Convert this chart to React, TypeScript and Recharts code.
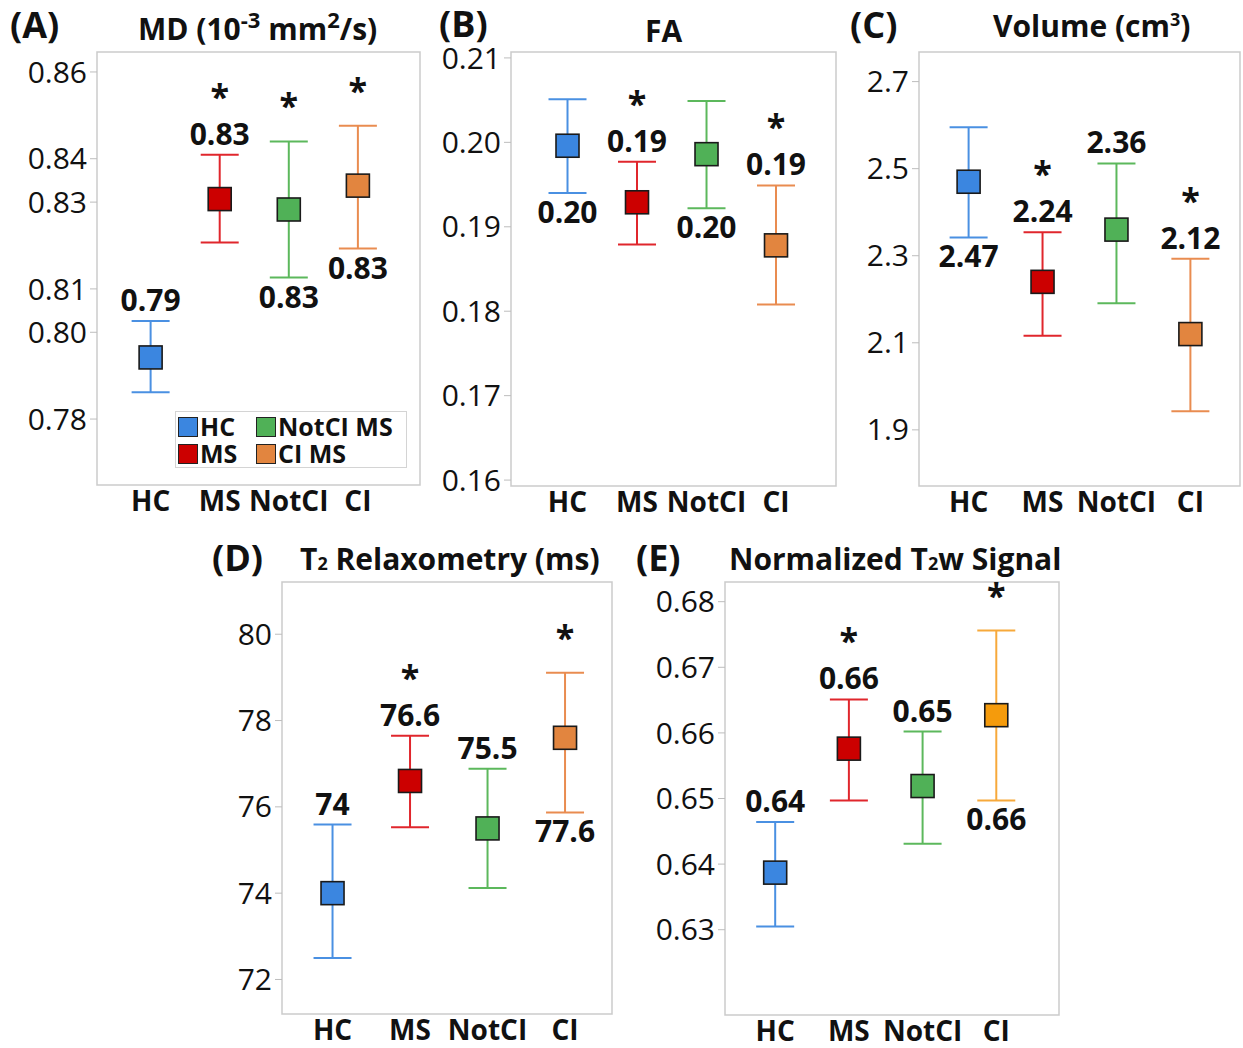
import React from 'react';
import { ScatterChart, Scatter, XAxis, YAxis, ErrorBar, ReferenceArea, Legend } from 'recharts';

const FONT = "'Open Sans', 'Noto Sans', sans-serif";
const INK = '#111';

// groups on the x axis, and their full names in the legend
const groups = ['HC', 'MS', 'NotCI', 'CI'];
const groupNames = ['HC', 'MS', 'NotCI MS', 'CI MS'];
const markFills = ['#3b86e0', '#cc0000', '#50b157', '#e2853f'];
const barStrokes = ['#4a90e2', '#e0262c', '#5cb85c', '#e98c50'];

// (A) MD
const mdMean = [0.7942, 0.8307, 0.8283, 0.8338];
const mdLow = [0.7862, 0.8207, 0.8126, 0.8193];
const mdHigh = [0.8026, 0.8409, 0.844, 0.8476];
const mdSig = [false, true, true, true];
const mdTicks = [0.78, 0.8, 0.81, 0.83, 0.84, 0.86];
const mdTickLabels = ['0.78', '0.80', '0.81', '0.83', '0.84', '0.86'];

// (B) FA
const faMean = [0.1996, 0.1929, 0.1986, 0.1878];
const faLow = [0.194, 0.1879, 0.1922, 0.1808];
const faHigh = [0.2051, 0.1977, 0.2049, 0.1949];
const faSig = [false, true, false, true];
const faTicks = [0.16, 0.17, 0.18, 0.19, 0.2, 0.21];
const faTickLabels = ['0.16', '0.17', '0.18', '0.19', '0.20', '0.21'];

// (C) volume
const volMean = [2.47, 2.24, 2.36, 2.12];
const volLow = [2.342, 2.116, 2.191, 1.943];
const volHigh = [2.595, 2.354, 2.512, 2.293];
const volSig = [false, true, false, true];
const volTicks = [1.9, 2.1, 2.3, 2.5, 2.7];
const volTickLabels = ['1.9', '2.1', '2.3', '2.5', '2.7'];

// (D) T2 relaxometry
const t2Mean = [74, 76.6, 75.5, 77.6];
const t2Low = [72.5, 75.53, 74.12, 75.87];
const t2High = [75.59, 77.65, 76.88, 79.11];
const t2Sig = [false, true, false, true];
const t2Ticks = [72, 74, 76, 78, 80];
const t2TickLabels = ['72', '74', '76', '78', '80'];

// (E) normalized T2w signal
const swMean = [0.6387, 0.6576, 0.6519, 0.6627];
const swLow = [0.6305, 0.6497, 0.6431, 0.6497];
const swHigh = [0.6464, 0.6651, 0.6602, 0.6756];
const swSig = [false, true, false, true];
const swTicks = [0.63, 0.64, 0.65, 0.66, 0.67, 0.68];
const swTickLabels = ['0.63', '0.64', '0.65', '0.66', '0.67', '0.68'];

const fixed2 = (v: number) => v.toFixed(2);
const plain = (v: number) => String(v);

const valueStyle = { fontFamily: FONT, fontSize: 30, fontWeight: 700, fill: INK };
const starStyle = { ...valueStyle, fontSize: 34 };

const YW = 95;
const TOP = 16;
const RIGHT = 3;
const XH = 45;

type Side = 'above' | 'below';

type PanelProps = {
  frame: { l: number; t: number; r: number; b: number };
  xDomain: [number, number];
  yDomain: [number, number];
  mean: number[];
  low: number[];
  high: number[];
  sig: boolean[];
  ticks: number[];
  tickLabels: string[];
  sides: Side[];
  fmt: (v: number) => string;
  fills?: string[];
  strokes?: string[];
  legend?: boolean;
};

const squareShape = (fill: string) => (p: any) => (
  <rect x={p.cx - 11.5} y={p.cy - 11.5} width={23} height={23} fill={fill} stroke="#1a1a1a" strokeWidth={1.6} />
);

// value label above the upper cap, with the significance star over it
const topShape = (p: any) => {
  const { cx, cy, payload } = p;
  const labelY = cy - 10;
  return (
    <g>
      {payload.text && (
        <text x={cx} y={labelY} textAnchor="middle" style={valueStyle}>
          {payload.text}
        </text>
      )}
      {payload.star && (
        <text x={cx} y={payload.text ? labelY - 36 : cy - 23} textAnchor="middle" style={starStyle}>
          *
        </text>
      )}
    </g>
  );
};

const bottomShape = (p: any) => {
  const { cx, cy, payload } = p;
  if (!payload.text) return <g />;
  return (
    <text x={cx} y={cy + 30} textAnchor="middle" style={valueStyle}>
      {payload.text}
    </text>
  );
};

const LegendBox = () => (
  <div
    style={{
      display: 'grid',
      gridTemplateRows: '27px 27px',
      gridTemplateColumns: '78px auto',
      gridAutoFlow: 'column',
      border: '1.5px solid #d4d4d4',
      padding: '1px 2px',
      width: 232,
      height: 57,
      boxSizing: 'border-box',
      background: '#fff',
      fontFamily: FONT,
      fontWeight: 700,
      fontSize: 25,
      lineHeight: '27px',
      color: INK,
    }}
  >
    {groupNames.map((n, i) => (
      <div key={n} style={{ display: 'flex', alignItems: 'center', whiteSpace: 'nowrap', height: 27 }}>
        <span
          style={{
            display: 'inline-block',
            width: 18,
            height: 18,
            background: markFills[i],
            border: '1.5px solid #222',
            marginRight: 2,
          }}
        />
        {n}
      </div>
    ))}
  </div>
);

function Panel(props: PanelProps) {
  const { frame, xDomain, yDomain, mean, low, high, sig, ticks, tickLabels, sides, fmt } = props;
  const fills = props.fills || markFills;
  const strokes = props.strokes || barStrokes;
  const width = YW + frame.r - frame.l + RIGHT;
  const height = TOP + frame.b - frame.t + XH;

  const meanRows = mean.map((m, i) => ({ x: i, y: m, err: [m - low[i], high[i] - m] }));
  const topRows = high.map((h, i) => ({
    x: i,
    y: h,
    text: sides[i] === 'above' ? fmt(mean[i]) : '',
    star: sig[i],
  }));
  const bottomRows = low.map((l, i) => ({ x: i, y: l, text: sides[i] === 'below' ? fmt(mean[i]) : '' }));

  return (
    <div style={{ position: 'absolute', left: frame.l - YW, top: frame.t - TOP }}>
      <ScatterChart width={width} height={height} margin={{ top: TOP, right: RIGHT, bottom: 0, left: 0 }}>
        <XAxis
          type="number"
          dataKey="x"
          domain={xDomain}
          ticks={[0, 1, 2, 3]}
          interval={0}
          allowDataOverflow
          tickFormatter={(i: number) => groups[i]}
          axisLine={false}
          tickLine={false}
          tickSize={6}
          tickMargin={0}
          height={XH}
          tick={{ fontFamily: FONT, fontSize: 28, fontWeight: 700, fill: INK }}
        />
        <YAxis
          type="number"
          dataKey="y"
          domain={yDomain}
          ticks={ticks}
          interval={0}
          allowDataOverflow
          tickFormatter={(v: number) => tickLabels[ticks.indexOf(v)]}
          width={YW}
          axisLine={false}
          tickSize={7}
          tickMargin={3}
          tickLine={{ stroke: '#bdbdbd' }}
          tick={{ fontFamily: FONT, fontSize: 30, fill: INK }}
        />
        <ReferenceArea
          x1={xDomain[0]}
          x2={xDomain[1]}
          y1={yDomain[0]}
          y2={yDomain[1]}
          fill="none"
          stroke="#cbcbcb"
          strokeWidth={1.5}
          ifOverflow="visible"
        />
        {groups.map((g, i) => (
          <Scatter
            key={'m' + g}
            name={groupNames[i]}
            data={[meanRows[i]]}
            fill={fills[i]}
            shape={squareShape(fills[i])}
            isAnimationActive={false}
          >
            <ErrorBar dataKey="err" direction="y" width={19} stroke={strokes[i]} strokeWidth={2} />
          </Scatter>
        ))}
        <Scatter data={topRows} shape={topShape} legendType="none" isAnimationActive={false} />
        <Scatter data={bottomRows} shape={bottomShape} legendType="none" isAnimationActive={false} />
        {props.legend && (
          <Legend
            layout="horizontal"
            verticalAlign="middle"
            align="center"
            content={() => <LegendBox />}
            wrapperStyle={{ left: 173, top: 375, width: 232, height: 57 }}
          />
        )}
      </ScatterChart>
    </div>
  );
}

const titleStyle: React.CSSProperties = {
  position: 'absolute',
  fontFamily: FONT,
  fontWeight: 700,
  fontSize: 30,
  lineHeight: '36px',
  color: INK,
  whiteSpace: 'nowrap',
};

const letterStyle: React.CSSProperties = { ...titleStyle, fontSize: 36, lineHeight: '42px' };

const sup: React.CSSProperties = { fontSize: 22, position: 'relative', top: -12 };
const small: React.CSSProperties = { fontSize: 18 };

export default function App() {
  return (
    <div style={{ position: 'absolute', left: 0, top: 0, width: 1243, height: 1048, background: '#fff' }}>
      <div style={{ ...letterStyle, left: 10, top: 4 }}>(A)</div>
      <div style={{ ...letterStyle, left: 439, top: 3 }}>(B)</div>
      <div style={{ ...letterStyle, left: 850, top: 4 }}>(C)</div>
      <div style={{ ...letterStyle, left: 212, top: 537 }}>(D)</div>
      <div style={{ ...letterStyle, left: 636, top: 537 }}>(E)</div>

      <div style={{ ...titleStyle, left: 138, top: 11 }}>
        MD (10<span style={sup}>-3</span> mm<span style={sup}>2</span>/s)
      </div>
      <div style={{ ...titleStyle, left: 645, top: 13 }}>FA</div>
      <div style={{ ...titleStyle, left: 993, top: 8 }}>
        Volume (cm<span style={{ ...small, position: 'relative', top: -11 }}>3</span>)
      </div>
      <div style={{ ...titleStyle, left: 300, top: 541 }}>
        T<span style={small}>2</span> Relaxometry (ms)
      </div>
      <div style={{ ...titleStyle, left: 729, top: 541 }}>
        Normalized T<span style={small}>2</span>w Signal
      </div>

      <Panel
        frame={{ l: 97, t: 52, r: 420, b: 485 }}
        xDomain={[-0.776, 3.899]}
        yDomain={[0.7648, 0.8646]}
        mean={mdMean}
        low={mdLow}
        high={mdHigh}
        sig={mdSig}
        ticks={mdTicks}
        tickLabels={mdTickLabels}
        sides={['above', 'above', 'below', 'below']}
        fmt={fixed2}
        legend
      />
      <Panel
        frame={{ l: 511, t: 52, r: 836, b: 486 }}
        xDomain={[-0.813, 3.863]}
        yDomain={[0.1593, 0.2107]}
        mean={faMean}
        low={faLow}
        high={faHigh}
        sig={faSig}
        ticks={faTicks}
        tickLabels={faTickLabels}
        sides={['below', 'above', 'below', 'above']}
        fmt={fixed2}
      />
      <Panel
        frame={{ l: 919, t: 52, r: 1240, b: 486 }}
        xDomain={[-0.671, 3.671]}
        yDomain={[1.771, 2.768]}
        mean={volMean}
        low={volLow}
        high={volHigh}
        sig={volSig}
        ticks={volTicks}
        tickLabels={volTickLabels}
        sides={['below', 'above', 'above', 'above']}
        fmt={fixed2}
      />
      <Panel
        frame={{ l: 282, t: 582, r: 612, b: 1014 }}
        xDomain={[-0.652, 3.606]}
        yDomain={[71.2, 81.21]}
        mean={t2Mean}
        low={t2Low}
        high={t2High}
        sig={t2Sig}
        ticks={t2Ticks}
        tickLabels={t2TickLabels}
        sides={['above', 'above', 'above', 'below']}
        fmt={plain}
      />
      <Panel
        frame={{ l: 725, t: 582, r: 1059, b: 1015 }}
        xDomain={[-0.681, 3.851]}
        yDomain={[0.617, 0.683]}
        mean={swMean}
        low={swLow}
        high={swHigh}
        sig={swSig}
        ticks={swTicks}
        tickLabels={swTickLabels}
        sides={['above', 'above', 'above', 'below']}
        fmt={fixed2}
        fills={['#3b86e0', '#cc0000', '#50b157', '#f59b0c']}
        strokes={['#4a90e2', '#e0262c', '#5cb85c', '#f7a93b']}
      />
    </div>
  );
}
